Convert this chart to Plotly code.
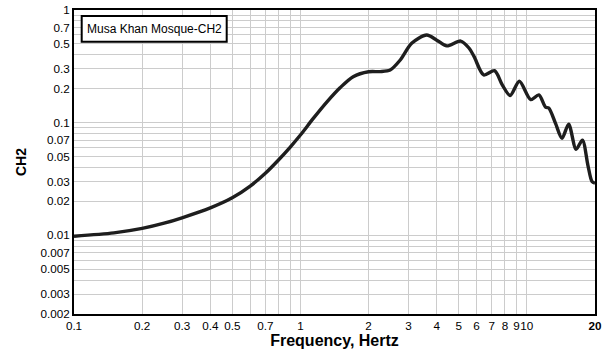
import math
import plotly.graph_objects as go

# Data
freq = [0.1, 0.15, 0.2, 0.25, 0.3, 0.4, 0.5, 0.6, 0.7, 0.8, 0.9, 1.0, 1.14, 1.31, 1.5, 1.71,
        2.0, 2.25, 2.49, 2.76, 3.1, 3.61, 4.0, 4.43, 5.1, 5.55, 5.85, 6.45, 7.2, 7.8, 8.44,
        9.27, 10.4, 11.3, 12.1, 12.5, 13.4, 14.3, 15.3, 16.5, 17.6, 18.6, 19.4, 20.0]
ch2 = [0.0098, 0.0105, 0.0115, 0.0128, 0.0143, 0.0175, 0.0215, 0.0273, 0.0355, 0.0466, 0.0604,
       0.0776, 0.109, 0.153, 0.205, 0.256, 0.283, 0.284, 0.293, 0.36, 0.506, 0.60, 0.54, 0.48,
       0.53, 0.46, 0.385, 0.265, 0.289, 0.215, 0.174, 0.233, 0.16, 0.176, 0.137, 0.135, 0.098,
       0.0725, 0.097, 0.058, 0.070, 0.042, 0.030, 0.029]

x_tickvals = [0.1, 0.2, 0.3, 0.4, 0.5, 0.6, 0.7, 0.8, 0.9, 1, 2, 3, 4, 5, 6, 7, 8, 9, 10, 20]
x_ticktext = ["0.1", "0.2", "0.3", "0.4", "0.5", "", "0.7", "", "", "1", "2", "3", "4", "5",
              "6", "7", "8", "9", "10", "<b>20</b>"]

y_labeled = [0.002, 0.003, 0.005, 0.007, 0.01, 0.02, 0.03, 0.05, 0.07, 0.1, 0.2, 0.3, 0.5, 0.7, 1]
y_tickvals = []
for dec in [0.001, 0.01, 0.1]:
    for m in range(1, 10):
        v = round(m * dec, 6)
        if v >= 0.002:
            y_tickvals.append(v)
y_tickvals.append(1)
y_ticktext = [(("%g" % v) if any(abs(v - l) < 1e-9 for l in y_labeled) else "") for v in y_tickvals]

legend_text = "Musa Khan Mosque-CH2"

fig = go.Figure()
fig.add_trace(go.Scatter(x=freq, y=ch2, mode="lines",
                         line=dict(color="#1e1e1e", width=3.4, shape="spline", smoothing=0.8),
                         showlegend=False, hoverinfo="skip"))

font = "Liberation Sans, Arial, sans-serif"
fig.update_layout(
    width=604, height=351,
    margin=dict(l=74, r=9, t=10, b=37, autoexpand=False),
    paper_bgcolor="white", plot_bgcolor="white",
    font=dict(family=font, size=11.7, color="black"),
    xaxis=dict(type="log", range=[-1, math.log10(20)],
               tickvals=x_tickvals, ticktext=x_ticktext, tickangle=0,
               showgrid=True, gridcolor="#cccccc", gridwidth=1,
               showline=True, linecolor="black", linewidth=2, mirror=True,
               ticks="", zeroline=False, automargin=False,
               title=dict(text="<b>Frequency, Hertz</b>", font=dict(size=16), standoff=2)),
    yaxis=dict(type="log", range=[math.log10(0.002), 0],
               tickvals=y_tickvals, ticktext=y_ticktext, tickangle=0,
               showgrid=True, gridcolor="#cccccc", gridwidth=1,
               showline=True, linecolor="black", linewidth=2, mirror=True,
               ticks="", zeroline=False, automargin=False,
               title=dict(text="<b>CH2</b>", font=dict(size=14), standoff=11)),
)

fig.add_shape(type="rect", xref="paper", yref="paper",
              x0=(81.7 - 74) / 521, x1=(226.7 - 74) / 521,
              y0=1 - (41.7 - 10) / 304, y1=1 - (16 - 10) / 304,
              line=dict(color="black", width=2), fillcolor="white", layer="above")
fig.add_annotation(xref="paper", yref="paper",
                   x=(154.2 - 74) / 521, y=1 - (29 - 10) / 304,
                   text=legend_text, showarrow=False,
                   font=dict(size=12, family=font), xanchor="center", yanchor="middle")

fig.write_html("out.html", config={"displayModeBar": False},
               post_script="document.body.style.margin='0';document.body.style.overflow='hidden';")
